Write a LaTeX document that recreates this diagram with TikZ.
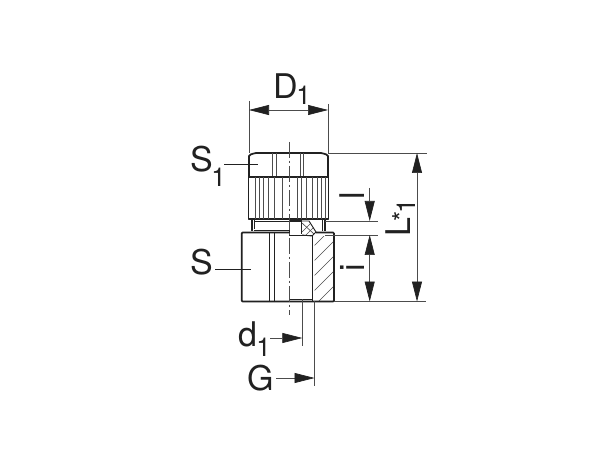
\documentclass[tikz,border=0pt]{standalone}
\usepackage{fontspec}
\setmainfont{TeX Gyre Heros}
\usetikzlibrary{arrows.meta}
\definecolor{ink}{gray}{0.13}
\definecolor{thin}{gray}{0.3}
\tikzset{
 x=0.75pt,y=-0.75pt,
 heavy/.style={draw=ink,line width=1.3pt,line join=round},
 medium/.style={draw=ink,line width=0.7pt},
 fineline/.style={draw=thin,line width=0.5pt},
 centerline/.style={draw=thin,line width=0.7pt,dash pattern=on 12pt off 2pt on 2pt off 2pt},
 dimarrow/.style={draw=thin,line width=0.5pt,-{Triangle[length=15pt,width=7.5pt,color=ink]}},
 dimboth/.style={draw=thin,line width=0.5pt,{Triangle[length=15pt,width=7.5pt,color=ink]}-{Triangle[length=15pt,width=7.5pt,color=ink]}},
 lab/.style={inner sep=0pt,anchor=base west,font=\fontsize{25.5pt}{25.5pt}\selectfont,text=ink},
 sublab/.style={inner sep=0pt,anchor=base west,font=\fontsize{19.5pt}{19.5pt}\selectfont,text=ink},
}
\begin{document}
\begin{tikzpicture}
\useasboundingbox (0,0) rectangle (600,449);
\fill[white] (0,0) rectangle (600,449);
% hatching
\begin{scope}
\clip (314.5,237) rectangle (334,301.5);
\foreach \k in {0,...,7}{
 \draw[fineline] (310,{250+\k*15}) -- (340,{220+\k*15});
}
\end{scope}
\begin{scope}
\clip (302,221) -- (309,221) -- (316,232) -- (312,236) -- (302,235) -- cycle;
\draw[fineline] (302,232) -- (311,223);
\draw[fineline] (305,236) -- (315,226);
\draw[fineline] (302,223) -- (314,234);
\end{scope}
% nut
\draw[heavy] (249,177) -- (249,156) .. controls (249,155) and (251,154) .. (256,153) -- (321,153) .. controls (326,154) and (328,155) .. (328,156) -- (328,177);
\foreach \px in {272,276,300,303}{ \draw[fineline] (\px,153) -- (\px,177); }
% knurl
\draw[heavy] (248.5,177) rectangle (328.5,219);
\foreach \px in {255,259,263,268,274,282,297,301,306,312,317,321,325}{ \draw[fineline] (\px,177) -- (\px,219); }
% neck
\draw[heavy] (252,219) -- (252,231);
\draw[heavy] (325,219) -- (325,231);
\draw[medium] (254,221) -- (289,221);
\draw[heavy] (254,230.5) -- (289,230.5);
\draw[medium] (254,219) -- (254,229);
\draw[medium] (322,219) -- (322,231);
\fill[ink] (289.5,219) rectangle (301,222);
\draw[medium] (289.5,222) -- (289.5,236);
\draw[heavy] (301.5,219) -- (301.5,234.5);
\draw[medium] (302,221) -- (309,221) -- (316,232) -- (312,236) -- (302,235);
% body
\draw[heavy] (316,232.5) -- (333,232.5) -- (334,233.5) -- (334,300.5) -- (333,301.5) -- (242.7,301.5) -- (241.7,300.5) -- (241.7,233.5) -- (242.7,232.5) -- (289,232.5);
\draw[medium] (269,233) -- (269,301);
\draw[medium] (274,233) -- (274,301);
\draw[heavy] (289.5,235.5) -- (312,235.5);
\draw[heavy] (312.5,235.5) -- (312.5,301);
\draw[heavy] (289.5,299.5) -- (312,299.5);
% centre line
\draw[centerline] (289.5,142) -- (289.5,315);
% extension lines
\draw[fineline] (249,101) -- (249,153);
\draw[fineline] (328,104) -- (328,153);
\draw[fineline] (328,153) -- (427,153);
\draw[fineline] (334,301.5) -- (426,301.5);
\draw[fineline] (325,221) -- (378,221);
\draw[fineline] (325,235) -- (378,235);
\draw[fineline] (302.3,299) -- (302.3,346);
\draw[fineline] (314.5,301) -- (314.5,386);
% dimensions
\coordinate (dl) at (249,110); \coordinate (dr) at (328,110);
\draw[dimboth] (dl) -- (dr);
\coordinate (lt) at (417,153); \coordinate (lb) at (417,301.5);
\draw[dimboth] (lt) -- (lb);
\coordinate (as) at (369.7,188); \coordinate (ae) at (369.7,221);
\draw[dimarrow] (as) -- (ae);
\coordinate (bt) at (369.7,235); \coordinate (bb) at (369.7,301.5);
\draw[dimboth] (bt) -- (bb);
\coordinate (ds) at (270,338); \coordinate (de) at (302.3,338);
\draw[dimarrow] (ds) -- (de);
\coordinate (gs) at (276,378); \coordinate (ge) at (314.5,378);
\draw[dimarrow] (gs) -- (ge);
% leaders
\draw[draw=ink,line width=0.5pt] (224,164) -- (258,164);
\draw[draw=ink,line width=0.5pt] (215,269) -- (251,269);
% labels
\node[lab] (tD) at (273,99) {D};
\node[sublab] (tDs) at (296,105) {1};
\node[lab] (tS1) at (190,172) {S};
\node[sublab] (tS1s) at (211,187) {1};
\node[lab] (tS) at (190,274) {S};
\node[lab] (td) at (238,346) {d};
\node[sublab] (tds) at (256,356) {1};
\node[lab] (tG) at (247,390) {G};
\node[lab,rotate=90] (tL) at (410,237) {L};
\node[sublab,rotate=90] (tst) at (411,222) {*};
\node[sublab,rotate=90] (tLs) at (415,214) {1};
\node[lab,rotate=90] (tl) at (364,200) {l};
\node[lab,rotate=90] (ti) at (364,272) {i};
\end{tikzpicture}
\end{document}
